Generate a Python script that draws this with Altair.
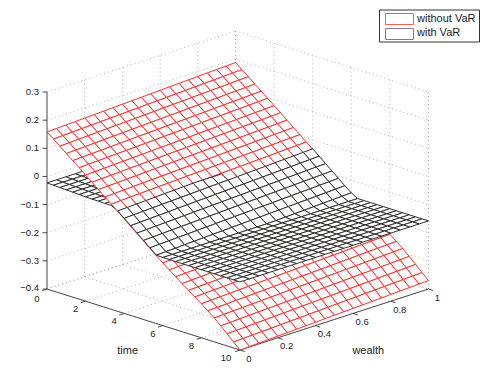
import altair as alt
import pandas as pd

# ---- values ----
times = [k / 3 for k in range(31)]
wealths = [i / 20 for i in range(21)]

red_at_zero_wealth = [0.158, 0.140, 0.122, 0.103, 0.085, 0.067, 0.048, 0.030, 0.011, -0.008, -0.026,
                      -0.045, -0.064, -0.083, -0.102, -0.121, -0.140, -0.159, -0.177, -0.195, -0.212,
                      -0.229, -0.246, -0.262, -0.279, -0.297, -0.315, -0.336, -0.357, -0.379, -0.400]
red_wealth_rise = [0, .0015, .003, .0045, .006, .0075, .009, .0105, .012, .0135, .015,
                   .0165, .018, .0195, .021, .0225, .024, .0255, .027, .0285, .03]

black_rows = [
    [-.023] * 21, [-.024] * 21, [-.025] * 21, [-.026] * 21, [-.027] * 21, [-.028] * 21,
    [-.029] * 21, [-.030] * 21, [-.030] * 21, [-.031] * 21, [-.031] * 21,
    [-.043, -.0415, -.04, -.0385, -.037, -.0355, -.034, -.0325] + [-.031] * 13,
    [-.062, -.0605, -.059, -.0575, -.056, -.0545, -.053, -.0515, -.05, -.0485, -.047, -.0455, -.044, -.0425, -.041, -.0395, -.038, -.0365, -.035, -.0335, -.032],
    [-.081, -.0795, -.078, -.0765, -.075, -.0735, -.072, -.0705, -.069, -.0675, -.066, -.0645, -.063, -.0615, -.06, -.0585, -.057, -.0555, -.054, -.0525, -.051],
    [-.1, -.0985, -.097, -.0955, -.094, -.0925, -.091, -.0895, -.088, -.0865, -.085, -.0835, -.082, -.0805, -.079, -.0775, -.076, -.0745, -.073, -.0715, -.07],
    [-.119, -.1175, -.116, -.1145, -.113, -.1115, -.11, -.1085, -.107, -.1055, -.104, -.1025, -.101, -.0995, -.098, -.0965, -.095, -.0935, -.092, -.0905, -.089],
    [-.138, -.1365, -.135, -.1335, -.132, -.1305, -.129, -.1275, -.126, -.1245, -.123, -.1215, -.12, -.1185, -.117, -.1155, -.114, -.1125, -.111, -.1095, -.108],
    [-.157, -.1555, -.154, -.1525, -.151, -.1495, -.148, -.1465, -.145, -.1435, -.142, -.1405, -.139, -.1375, -.136, -.1345, -.133, -.1315, -.13, -.1285, -.127],
    [-.158] * 12 + [-.157, -.1555, -.154, -.1525, -.151, -.1495, -.148, -.1465, -.145],
] + [[-.158] * 21 for _ in range(12)]

time_ticks = [0, 2, 4, 6, 8, 10]
wealth_ticks = [0, 0.2, 0.4, 0.6, 0.8, 1]
z_ticks = [-0.4, -0.3, -0.2, -0.1, 0, 0.1, 0.2, 0.3]
z_labels = ["\u22120.4", "\u22120.3", "\u22120.2", "\u22120.1", "0", "0.1", "0.2", "0.3"]
wealth_labels = ["0", "0.2", "0.4", "0.6", "0.8", "1"]
legend_names = ["without VaR", "with VaR"]

RED = "#ff3030"
DARK = "#332f2f"


def project(t, w, z):
    """Fixed 3-D view of the axes box onto the picture."""
    return (47 + 19.3 * t + 188.5 * w,
            289 + 6.1 * t - 61 * w - (z + 0.4) * 281.4)


red_rows = [[r + d for d in red_wealth_rise] for r in red_at_zero_wealth]

# ---- surface cells, sorted back to front ----
cells = []
for name, rows in (("red", red_rows), ("black", black_rows)):
    for k in range(len(times) - 1):
        for i in range(len(wealths) - 1):
            corners = [(k, i), (k + 1, i), (k + 1, i + 1), (k, i + 1)]
            zm = sum(rows[a][b] for a, b in corners) / 4
            key = (k + 0.5) / 30 + 1 - (i + 0.5) / 20
            cells.append((key, zm, name, corners, rows))
cells.sort(key=lambda c: (round(c[0], 6), c[1]))

surf = []
for n, (key, zm, name, corners, rows) in enumerate(cells):
    for v, (a, b) in enumerate(corners):
        sx, sy = project(times[a], wealths[b], rows[a][b])
        surf.append({"cell": n, "v": v, "sx": sx, "sy": sy, "surface": name})
surf = pd.DataFrame(surf)


def seg(rows, lid, p, q):
    rows.append({"id": lid, "v": 0, "sx": p[0], "sy": p[1]})
    rows.append({"id": lid, "v": 1, "sx": q[0], "sy": q[1]})


# ---- dotted box grid ----
grid = []
zb, zt = z_ticks[0], z_ticks[-1]
lid = 0
for w in wealth_ticks:
    seg(grid, lid, project(0, w, zb), project(0, w, zt)); lid += 1
    seg(grid, lid, project(0, w, zb), project(10, w, zb)); lid += 1
for t in time_ticks:
    seg(grid, lid, project(t, 1, zb), project(t, 1, zt)); lid += 1
    seg(grid, lid, project(t, 0, zb), project(t, 1, zb)); lid += 1
for z in z_ticks:
    seg(grid, lid, project(0, 0, z), project(0, 1, z)); lid += 1
    seg(grid, lid, project(0, 1, z), project(10, 1, z)); lid += 1
grid = pd.DataFrame(grid)

# ---- axes ----
axis_dark = []
lid = 0
seg(axis_dark, lid, project(0, 0, zb), project(10, 0, zb)); lid += 1
seg(axis_dark, lid, project(10, 0, zb), project(10, 1, zb)); lid += 1
for t in time_ticks:
    p = project(t, 0, zb)
    seg(axis_dark, lid, p, (p[0] - 4.8, p[1] + 1.6)); lid += 1
for w in wealth_ticks:
    p = project(10, w, zb)
    seg(axis_dark, lid, p, (p[0] + 4.8, p[1] + 1.5)); lid += 1
for z in z_ticks:
    p = project(0, 0, z)
    seg(axis_dark, lid, p, (p[0] - 4.5, p[1])); lid += 1
axis_dark = pd.DataFrame(axis_dark)

axis_z = []
seg(axis_z, 0, project(0, 0, zb), project(0, 0, zt))
axis_z = pd.DataFrame(axis_z)

# ---- text ----
z_text, mid_text, title_text, legend_text = [], [], [], []
for z, lab in zip(z_ticks, z_labels):
    p = project(0, 0, z)
    z_text.append({"sx": p[0] - 8, "sy": p[1] - (1 if z == -0.4 else 0), "label": lab})
for t in time_ticks:
    p = project(t, 0, zb)
    mid_text.append({"sx": p[0] - (10 if t < 10 else 14), "sy": p[1] + (9.5 if t == 0 else 8), "label": str(t)})
for w, lab in zip(wealth_ticks, wealth_labels):
    p = project(10, w, zb)
    mid_text.append({"sx": p[0] + 9, "sy": p[1] + 8.5, "label": lab})
title_text.append({"sx": 127.7, "sy": 351, "label": "time"})
title_text.append({"sx": 368.3, "sy": 351, "label": "wealth"})
for y, name in zip([19, 33], legend_names):
    legend_text.append({"sx": 417, "sy": y, "label": name})

legend_box = pd.DataFrame([{"x1": 379.5, "x2": 479.5, "y1": 10, "y2": 42}])
legend_patch = pd.DataFrame([
    {"x1": 385.5, "x2": 413.5, "y1": 13.5, "y2": 24.5, "c": "red"},
    {"x1": 385.5, "x2": 413.5, "y1": 28.5, "y2": 39.5, "c": "black"},
])

X = alt.Scale(domain=[8, 483], range=[0, 475])
Y = alt.Scale(domain=[8, 384], range=[0, 376])
x = alt.X("sx:Q", scale=X, axis=None)
y = alt.Y("sy:Q", scale=Y, axis=None)
surface_colors = alt.Scale(domain=["red", "black"], range=[RED, DARK])


def text_layer(rows, align, size):
    return alt.Chart(pd.DataFrame(rows)).mark_text(
        font="Liberation Sans", color="#1c1c1c", baseline="middle", align=align, fontSize=size
    ).encode(x=x, y=y, text="label:N")


grid_layer = alt.Chart(grid).mark_line(color="#aaaaaa", strokeWidth=0.9, strokeDash=[1, 3]).encode(
    x=x, y=y, detail="id:N", order="v:Q")
axis_z_layer = alt.Chart(axis_z).mark_line(color="#999999", strokeWidth=1.8).encode(
    x=x, y=y, detail="id:N", order="v:Q")
axis_layer = alt.Chart(axis_dark).mark_line(color="#4a4a4a", strokeWidth=1).encode(
    x=x, y=y, detail="id:N", order="v:Q")
surf_layer = alt.Chart(surf).mark_line(interpolate="linear-closed", fill="white", strokeWidth=1).encode(
    x=x, y=y, detail="cell:N", order="v:Q",
    stroke=alt.Stroke("surface:N", scale=surface_colors, legend=None))
box_layer = alt.Chart(legend_box).mark_rect(fill="white", stroke="#333333", strokeWidth=1).encode(
    x=alt.X("x1:Q", scale=X, axis=None), x2="x2:Q",
    y=alt.Y("y1:Q", scale=Y, axis=None), y2="y2:Q")
patch_layer = alt.Chart(legend_patch).mark_rect(fill="white", strokeWidth=1).encode(
    x=alt.X("x1:Q", scale=X, axis=None), x2="x2:Q",
    y=alt.Y("y1:Q", scale=Y, axis=None), y2="y2:Q",
    stroke=alt.Stroke("c:N", scale=alt.Scale(domain=["red", "black"], range=["#ff5a5a", "#808080"]), legend=None))

chart = alt.layer(
    grid_layer, axis_z_layer, axis_layer, surf_layer, box_layer, patch_layer,
    text_layer(z_text, "right", 9.5), text_layer(mid_text, "center", 9.5),
    text_layer(title_text, "center", 11), text_layer(legend_text, "left", 11),
).resolve_scale(stroke="independent").properties(
    width=475, height=376, padding=0, autosize=alt.AutoSizeParams(type="none")
).configure_view(stroke=None)

chart.save("out.html", embed_options={"renderer": "svg", "actions": False})
